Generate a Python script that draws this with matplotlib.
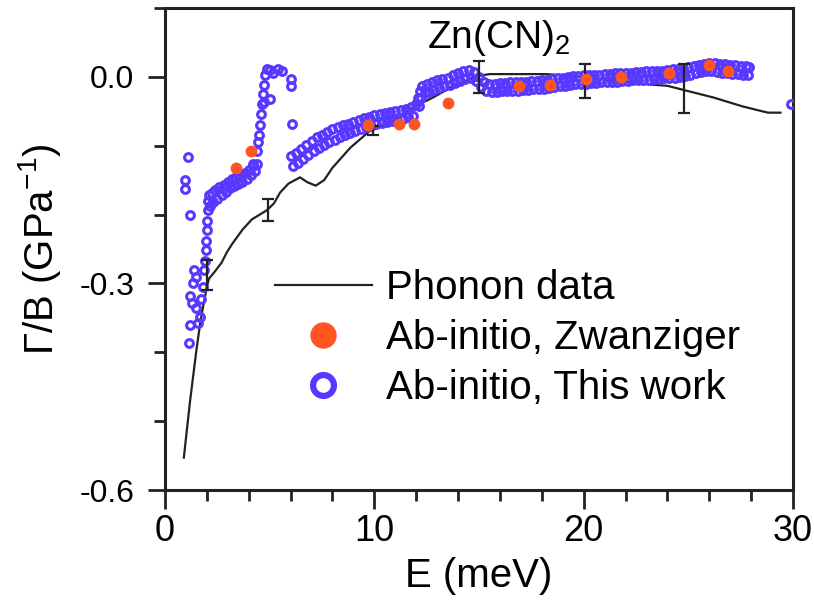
import numpy as np
import matplotlib
matplotlib.use("Agg")
import matplotlib.pyplot as plt
from matplotlib.lines import Line2D
from matplotlib.ticker import MultipleLocator

plt.rcParams['font.family'] = ['Liberation Sans', 'DejaVu Sans']
plt.rcParams['mathtext.fontset'] = 'custom'
plt.rcParams['mathtext.rm'] = 'Liberation Sans'
plt.rcParams['mathtext.it'] = 'Liberation Sans:italic'
plt.rcParams['axes.unicode_minus'] = False

# phonon (inelastic scattering) curve
phonon_e = [0.9, 1.2, 1.5, 1.67, 1.8, 2.0, 2.1, 2.4, 2.7, 2.95, 3.2, 3.7, 4.15, 4.85,
            5.2, 5.5, 5.9, 6.45, 6.8, 7.2, 7.6, 8.0, 8.85, 9.8, 10.9, 12.0, 12.8, 13.8,
            14.9, 15.5, 17.0, 18.2, 19.7, 21.0, 22.7, 24.0, 24.9, 26.2, 27.6, 28.8, 29.4]
phonon_g = [-0.553, -0.47, -0.397, -0.36, -0.337, -0.305, -0.293, -0.282, -0.270, -0.255,
            -0.243, -0.222, -0.207, -0.194, -0.184, -0.168, -0.155, -0.146, -0.153, -0.158,
            -0.150, -0.132, -0.103, -0.078, -0.065, -0.042, -0.030, -0.013, 0.001, 0.004,
            0.004, 0.004, 0.001, -0.004, -0.010, -0.013, -0.020, -0.030, -0.043, -0.052, -0.052]

# error bars on the phonon curve
err_e = [2.0, 4.9, 9.95, 15.0, 20.07, 24.8]
err_g = [-0.288, -0.193, -0.078, 0.0, -0.006, -0.017]
err_half = [0.022, 0.016, 0.007, 0.023, 0.025, 0.036]

# ab-initio, Zwanziger
zw_e = [3.4, 4.1, 9.7, 11.2, 11.9, 13.5, 16.9, 18.4, 20.1, 21.8, 24.1, 26.0, 26.9]
zw_g = [-0.133, -0.108, -0.070, -0.068, -0.068, -0.038, -0.013, -0.012, -0.003, 0.0,
        0.006, 0.017, 0.009]

# ab-initio, this work: low-energy scatter
tw_scatter_e = [1.1, 0.95, 0.97, 1.2, 2.05, 2.05, 2.0, 2.0, 1.95, 1.95, 1.9, 1.85, 1.4,
                1.35, 1.5, 1.2, 1.3, 1.5, 1.65, 1.6, 1.2, 1.15, 1.8, 1.7]
tw_scatter_g = [-0.117, -0.150, -0.163, -0.201, -0.180, -0.194, -0.209, -0.223, -0.238,
                -0.252, -0.267, -0.280, -0.281, -0.300, -0.291, -0.318, -0.329, -0.336,
                -0.349, -0.358, -0.361, -0.387, -0.305, -0.322]

# lower branch 2-4.4 meV
tw_low_e = [2.1, 2.15, 2.25, 2.3, 2.4, 2.5, 2.6, 2.7, 2.8, 2.9, 3.0, 3.1, 3.2, 3.3, 3.4,
            3.5, 3.6, 3.7, 3.8, 3.9, 4.0, 4.1, 4.2, 4.3, 4.4]
tw_low_g = [-0.172, -0.188, -0.168, -0.182, -0.164, -0.177, -0.160, -0.172, -0.157,
            -0.167, -0.152, -0.162, -0.149, -0.159, -0.146, -0.155, -0.143, -0.152,
            -0.139, -0.148, -0.135, -0.143, -0.130, -0.137, -0.126]

# steep rise near 4.5 meV and the cluster around zero
tw_rise_e = [4.2, 4.4, 4.45, 4.5, 4.55, 4.6, 4.65, 4.7, 4.75, 4.8, 4.85, 5.0, 5.15, 5.4,
             5.6, 6.0, 6.0, 5.0, 4.75, 6.05]
tw_rise_g = [-0.126, -0.107, -0.095, -0.085, -0.070, -0.054, -0.040, -0.025, -0.012,
             0.002, 0.012, 0.010, 0.006, 0.012, 0.008, -0.003, -0.014, -0.032, -0.036, -0.068]

# main branch 6-28 meV, upper edge
tw_up_e = [6.0, 6.25, 6.5, 6.75, 7.0, 7.25, 7.5, 7.75, 8.0, 8.25, 8.5, 8.75, 9.0, 9.25,
           9.5, 9.75, 10.0, 10.25, 10.5, 10.75, 11.0, 11.25, 11.5, 11.75, 12.0, 12.1,
           12.2, 12.3, 12.5, 12.75, 13.0, 13.25, 13.5, 13.75, 14.0, 14.25, 14.5, 14.75,
           15.0, 15.25, 15.5, 15.75, 16.0, 16.25, 16.5, 16.75, 17.0, 17.25, 17.5, 17.75,
           18.0, 18.25, 18.5, 18.75, 19.0, 19.25, 19.5, 19.75, 20.0, 20.25, 20.5, 20.75,
           21.0, 21.25, 21.5, 21.75, 22.0, 22.25, 22.5, 22.75, 23.0, 23.25, 23.5, 23.75,
           24.0, 24.25, 24.5, 24.75, 25.0, 25.25, 25.5, 25.75, 26.0, 26.25, 26.5, 26.75,
           27.0, 27.25, 27.5, 27.75, 27.9]
tw_up_g = [-0.115, -0.110, -0.105, -0.099, -0.093, -0.088, -0.084, -0.080, -0.076, -0.073,
           -0.070, -0.068, -0.065, -0.063, -0.060, -0.058, -0.056, -0.054, -0.052, -0.051,
           -0.049, -0.048, -0.046, -0.044, -0.040, -0.031, -0.021, -0.014, -0.011, -0.008,
           -0.005, -0.003, -0.001, 0.002, 0.005, 0.008, 0.010, 0.007, 0.000, -0.007,
           -0.010, -0.010, -0.009, -0.009, -0.008, -0.008, -0.007, -0.007, -0.006, -0.006,
           -0.005, -0.004, -0.003, -0.002, -0.001, 0.000, 0.001, 0.001, 0.002, 0.002,
           0.003, 0.003, 0.004, 0.004, 0.005, 0.005, 0.006, 0.006, 0.007, 0.007, 0.008,
           0.008, 0.009, 0.009, 0.010, 0.011, 0.012, 0.013, 0.014, 0.016, 0.017, 0.019,
           0.020, 0.020, 0.019, 0.018, 0.017, 0.017, 0.016, 0.016, 0.015]

# main branch 6-28 meV, lower edge
tw_lo_e = [6.1, 6.35, 6.6, 6.85, 7.1, 7.35, 7.6, 7.85, 8.1, 8.35, 8.6, 8.85, 9.1, 9.35,
           9.6, 9.85, 10.1, 10.35, 10.6, 10.85, 11.1, 11.35, 11.6, 11.85, 12.15, 12.25,
           12.4, 12.6, 12.85, 13.1, 13.35, 13.6, 13.85, 14.1, 14.35, 14.6, 14.85, 15.1,
           15.35, 15.6, 15.85, 16.1, 16.35, 16.6, 16.85, 17.1, 17.35, 17.6, 17.85, 18.1,
           18.35, 18.6, 18.85, 19.1, 19.35, 19.6, 19.85, 20.1, 20.35, 20.6, 20.85, 21.1,
           21.35, 21.6, 21.85, 22.1, 22.35, 22.6, 22.85, 23.1, 23.35, 23.6, 23.85, 24.1,
           24.35, 24.6, 24.85, 25.1, 25.35, 25.6, 25.85, 26.1, 26.35, 26.6, 26.85, 27.1,
           27.35, 27.6, 27.85, 29.9]
tw_lo_g = [-0.130, -0.125, -0.119, -0.113, -0.108, -0.103, -0.099, -0.095, -0.091, -0.088,
           -0.085, -0.082, -0.079, -0.076, -0.073, -0.071, -0.069, -0.067, -0.065, -0.064,
           -0.062, -0.061, -0.059, -0.057, -0.042, -0.030, -0.024, -0.022, -0.019, -0.016,
           -0.014, -0.012, -0.009, -0.006, -0.003, -0.002, -0.006, -0.015, -0.020, -0.022,
           -0.022, -0.021, -0.021, -0.020, -0.020, -0.019, -0.019, -0.018, -0.018, -0.017,
           -0.016, -0.015, -0.014, -0.013, -0.012, -0.011, -0.010, -0.010, -0.009, -0.009,
           -0.008, -0.008, -0.007, -0.007, -0.006, -0.006, -0.005, -0.005, -0.004, -0.004,
           -0.003, -0.003, -0.002, -0.002, -0.001, 0.000, 0.001, 0.003, 0.005, 0.007,
           0.008, 0.008, 0.007, 0.006, 0.005, 0.004, 0.004, 0.003, 0.003, -0.040]

blue = '#5838ff'
orange = '#ff5522'
ink = '#222222'

fig = plt.figure(figsize=(8.14, 6.0), dpi=100)
ax = fig.add_axes([165 / 814, 1 - 490 / 600, 628 / 814, 482 / 600])

ax.plot(phonon_e, phonon_g, color=ink, lw=1.6, zorder=2)

tw_e = tw_scatter_e + tw_low_e + tw_rise_e + tw_up_e + tw_lo_e
tw_g = tw_scatter_g + tw_low_g + tw_rise_g + tw_up_g + tw_lo_g
ax.plot(tw_e, tw_g, ls='none', marker='o', ms=5.6, mfc='none', mec=blue, mew=2.2,
        zorder=3)

ax.errorbar(err_e, err_g, yerr=err_half, fmt='none', ecolor=ink, elinewidth=1.6,
            capsize=4, capthick=1.6, zorder=4)

ax.plot(zw_e, zw_g, ls='none', marker='o', ms=8.5, mfc=orange, mec='none', zorder=5)

ax.set_xlim(0, 30)
ax.set_ylim(-0.6, 0.1)
ax.set_xticks([0, 10, 20, 30])
ax.set_yticks([-0.6, -0.3, 0.0])
ax.set_yticklabels(['-0.6', '-0.3', '0.0'])
ax.xaxis.set_minor_locator(MultipleLocator(2))
ax.yaxis.set_minor_locator(MultipleLocator(0.1))

for side in ax.spines.values():
    side.set_linewidth(2.2)
    side.set_color(ink)
ax.tick_params(which='both', direction='out', width=2, color=ink)
ax.tick_params(axis='x', which='major', length=14, labelsize=26, pad=3)
ax.tick_params(axis='y', which='major', length=12, labelsize=23, pad=10)
ax.tick_params(which='minor', length=8)

ax.set_xlabel('E (meV)', fontsize=29, labelpad=6)
ax.set_ylabel('Γ/B (GPa$^{-1}$)', fontsize=29, labelpad=12)

ax.text(0.417, 0.917, 'Zn(CN)$_2$', transform=ax.transAxes, fontsize=28,
        ha='left', va='baseline')

handles = [
    Line2D([], [], color=ink, lw=1.6),
    Line2D([], [], ls='none', marker='o', ms=19, mfc=orange, mec='none'),
    Line2D([], [], ls='none', marker='o', ms=15, mfc='white', mec=blue, mew=4.5),
]
labels = ['Phonon data', 'Ab-initio, Zwanziger', 'Ab-initio, This work']
ax.legend(handles, labels, loc='upper left', bbox_to_anchor=(0.175, 0.458),
          frameon=False, fontsize=29, handlelength=2.4, handletextpad=0.35,
          labelspacing=0.3, borderpad=0, borderaxespad=0)

fig.savefig('out.png', dpi=100)
